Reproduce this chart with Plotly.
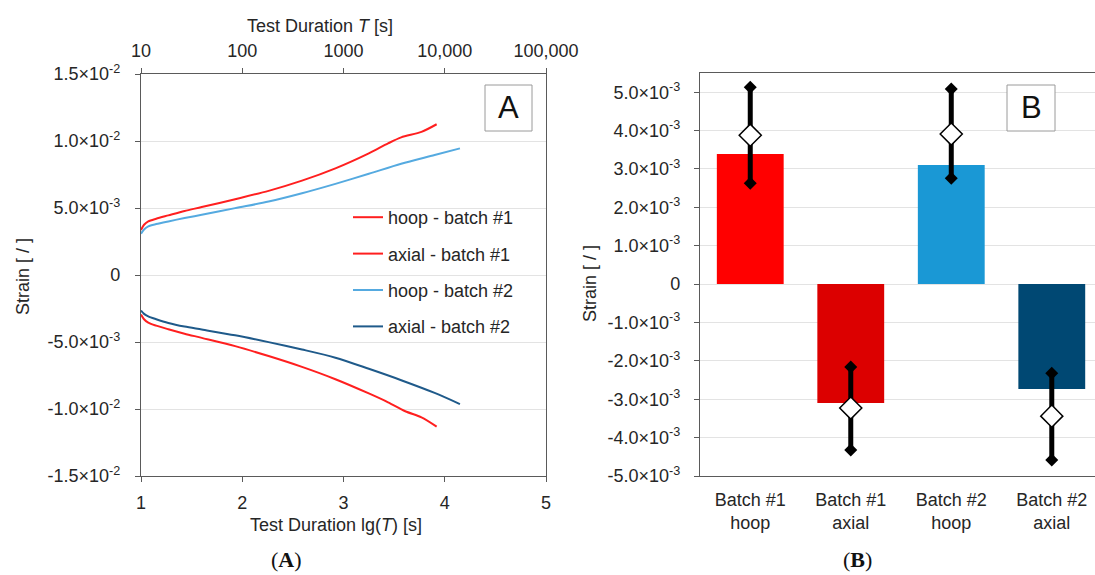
import plotly.graph_objects as go

W, H = 1095, 575

# ---------------- Panel A data (lg(T) vs strain) ----------------
lg_hoop1 = [1.00, 1.03, 1.072, 1.15, 1.27, 1.43, 1.60, 1.93, 2.26, 2.59, 2.92, 3.25, 3.44, 3.57, 3.77, 3.92]
hoop1 = [3.35e-3, 3.75e-3, 4.0e-3, 4.2e-3, 4.45e-3, 4.78e-3, 5.07e-3, 5.66e-3, 6.28e-3, 7.04e-3,
         7.96e-3, 9.08e-3, 9.82e-3, 1.027e-2, 1.068e-2, 1.125e-2]

lg_axial1 = [1.00, 1.03, 1.072, 1.15, 1.27, 1.43, 1.60, 1.93, 2.26, 2.59, 2.92, 3.25, 3.44, 3.61, 3.77, 3.92]
axial1 = [-2.95e-3, -3.3e-3, -3.55e-3, -3.78e-3, -4.05e-3, -4.38e-3, -4.69e-3, -5.31e-3, -6.05e-3,
          -6.86e-3, -7.78e-3, -8.84e-3, -9.5e-3, -1.017e-2, -1.062e-2, -1.131e-2]

lg_hoop2 = [1.00, 1.03, 1.072, 1.15, 1.27, 1.43, 1.60, 1.93, 2.26, 2.59, 2.92, 3.25, 3.57, 3.90, 4.15]
hoop2 = [3.08e-3, 3.4e-3, 3.63e-3, 3.8e-3, 4.0e-3, 4.25e-3, 4.49e-3, 4.99e-3, 5.48e-3, 6.1e-3,
         6.8e-3, 7.55e-3, 8.3e-3, 8.95e-3, 9.45e-3]

lg_axial2 = [1.00, 1.03, 1.072, 1.15, 1.27, 1.43, 1.60, 1.93, 2.26, 2.59, 2.92, 3.25, 3.57, 3.90, 4.15]
axial2 = [-2.65e-3, -2.9e-3, -3.09e-3, -3.3e-3, -3.58e-3, -3.85e-3, -4.07e-3, -4.5e-3, -5.01e-3,
          -5.56e-3, -6.17e-3, -7.0e-3, -7.85e-3, -8.8e-3, -9.63e-3]

series_names = ["hoop - batch #1", "axial - batch #1", "hoop - batch #2", "axial - batch #2"]
series_colors = ["#FF1F1F", "#FF1F1F", "#55AAE0", "#1F5A8A"]

a_yticks = [1.5e-2, 1.0e-2, 5.0e-3, 0, -5.0e-3, -1.0e-2, -1.5e-2]
a_yticktext = ["1.5×10<sup>-2</sup>", "1.0×10<sup>-2</sup>", "5.0×10<sup>-3</sup>", "0",
               "-5.0×10<sup>-3</sup>", "-1.0×10<sup>-2</sup>", "-1.5×10<sup>-2</sup>"]
a_xticks = [1, 2, 3, 4, 5]
top_ticks = [10, 100, 1000, 10000, 100000]
top_ticktext = ["10", "100", "1000", "10,000", "100,000"]

# ---------------- Panel B data ----------------
categories = ["Batch #1<br>hoop", "Batch #1<br>axial", "Batch #2<br>hoop", "Batch #2<br>axial"]
bar_values = [3.39e-3, -3.10e-3, 3.10e-3, -2.73e-3]
bar_colors = ["#FF0000", "#DC0000", "#1A98D5", "#004873"]
err_high = [5.13e-3, -2.16e-3, 5.08e-3, -2.32e-3]
err_low = [2.63e-3, -4.32e-3, 2.76e-3, -4.58e-3]
mean_values = [3.88e-3, -3.23e-3, 3.91e-3, -3.44e-3]

b_yticks = [5e-3, 4e-3, 3e-3, 2e-3, 1e-3, 0, -1e-3, -2e-3, -3e-3, -4e-3, -5e-3]
b_yticktext = ["5.0×10<sup>-3</sup>", "4.0×10<sup>-3</sup>", "3.0×10<sup>-3</sup>", "2.0×10<sup>-3</sup>",
               "1.0×10<sup>-3</sup>", "0", "-1.0×10<sup>-3</sup>", "-2.0×10<sup>-3</sup>",
               "-3.0×10<sup>-3</sup>", "-4.0×10<sup>-3</sup>", "-5.0×10<sup>-3</sup>"]

FONT = "Liberation Sans, Arial, sans-serif"
TXT = "#262626"
AXC = "#5a5a5a"
GRID = "#e3e3e3"
FS = 18


def px_x(p):
    return p / W


def px_y(p):
    return 1 - p / H


fig = go.Figure()

xs = [lg_hoop1, lg_axial1, lg_hoop2, lg_axial2]
ys = [hoop1, axial1, hoop2, axial2]
for i in range(4):
    fig.add_trace(go.Scatter(x=xs[i], y=ys[i], mode="lines", name=series_names[i],
                             line=dict(color=series_colors[i], width=2, shape="spline", smoothing=0.8),
                             legendgroup=f"g{i}", xaxis="x", yaxis="y"))

# dummy trace so the top log axis is drawn
fig.add_trace(go.Scatter(x=[10, 100000], y=[None, None], mode="lines", showlegend=False,
                         hoverinfo="skip", xaxis="x2", yaxis="y"))

# Panel B bars
fig.add_trace(go.Bar(x=categories, y=bar_values, marker=dict(color=bar_colors, line=dict(width=0)),
                     width=0.665, showlegend=False, xaxis="x3", yaxis="y3"))

# error bars with diamond end caps
for i, c in enumerate(categories):
    fig.add_trace(go.Scatter(x=[c, c], y=[err_low[i], err_high[i]], mode="lines+markers",
                             line=dict(color="black", width=5),
                             marker=dict(symbol="diamond", color="black", size=10),
                             showlegend=False, xaxis="x3", yaxis="y3"))
fig.add_trace(go.Scatter(x=categories, y=mean_values, mode="markers",
                         marker=dict(symbol="diamond", color="white", size=17,
                                     line=dict(color="black", width=1.5)),
                         showlegend=False, xaxis="x3", yaxis="y3"))

axis_common = dict(showline=True, linecolor=AXC, linewidth=1.3, automargin=False,
                   tickfont=dict(family=FONT, size=FS, color=TXT), ticks="outside",
                   tickcolor=AXC, ticklen=5, zeroline=False)

fig.update_layout(
    width=W, height=H,
    margin=dict(l=0, r=0, t=0, b=0, autoexpand=False),
    paper_bgcolor="white", plot_bgcolor="white",
    font=dict(family=FONT, color=TXT, size=FS),
    xaxis=dict(domain=[px_x(141), px_x(546)], range=[1, 5], tickvals=a_xticks,
               showgrid=False, anchor="y", ticklabelstandoff=5, **axis_common),
    xaxis2=dict(domain=[px_x(141), px_x(546)], type="log", range=[1, 5], overlaying="x",
                side="top", anchor="y", tickvals=top_ticks, ticktext=top_ticktext, showgrid=False,
                ticklabelstandoff=4, **axis_common),
    yaxis=dict(domain=[px_y(476), px_y(74)], range=[-0.015, 0.015], tickvals=a_yticks,
               ticktext=a_yticktext, showgrid=True, gridcolor=GRID, mirror=True, anchor="x",
               ticklabelstandoff=11, **axis_common),
    xaxis3=dict(domain=[px_x(700), 1.0], range=[-0.5, 3.43], anchor="y3", mirror=True,
                showgrid=False, ticks="", showline=True, linecolor=AXC, linewidth=1.3,
                automargin=False, ticklabelstandoff=7,
                tickfont=dict(family=FONT, size=FS, color=TXT), zeroline=False),
    yaxis3=dict(domain=[px_y(476), px_y(73)], range=[-5e-3, 5.5e-3], tickvals=b_yticks,
                ticktext=b_yticktext, showgrid=True, gridcolor=GRID, anchor="x3",
                ticklabelstandoff=10, **axis_common),
    legend=dict(x=px_x(348), y=px_y(199), xanchor="left", yanchor="top",
                bgcolor="rgba(0,0,0,0)", font=dict(family=FONT, size=FS, color=TXT),
                tracegroupgap=10, traceorder="grouped"),
    showlegend=True,
)

# Axis titles
titles = [
    (320, 26, "Test Duration <i>T</i> [s]", 0),
    (336, 525, "Test Duration lg(<i>T</i>) [s]", 0),
    (23, 277, "Strain [ / ]", -90),
    (590, 284, "Strain [ / ]", -90),
]
for (tx, ty, t, ang) in titles:
    fig.add_annotation(xref="paper", yref="paper", x=px_x(tx), y=px_y(ty), text=t,
                       showarrow=False, textangle=ang, font=dict(family=FONT, size=FS, color=TXT),
                       xanchor="center", yanchor="middle")

# Panel label boxes
for (x0, x1, letter) in [(485, 532, "A"), (1007, 1055, "B")]:
    fig.add_shape(type="rect", xref="paper", yref="paper",
                  x0=px_x(x0), x1=px_x(x1), y0=px_y(131), y1=px_y(85),
                  line=dict(color="#9a9a9a", width=1), fillcolor="white", layer="above")
    fig.add_annotation(xref="paper", yref="paper", x=px_x((x0 + x1) / 2), y=px_y(108),
                       text=letter, showarrow=False, font=dict(family=FONT, size=31, color="#111"),
                       xanchor="center", yanchor="middle")

# Sub-figure captions
for (cx, t) in [(286, "(<b>A</b>)"), (857, "(<b>B</b>)")]:
    fig.add_annotation(xref="paper", yref="paper", x=px_x(cx), y=px_y(559), text=t,
                       showarrow=False, font=dict(family="Liberation Serif, DejaVu Serif, serif",
                                                  size=22, color="#111"),
                       xanchor="center", yanchor="middle")

fig.write_html("out.html", config={"displayModeBar": False},
               post_script="document.body.style.margin='0';document.body.style.overflow='hidden';")
